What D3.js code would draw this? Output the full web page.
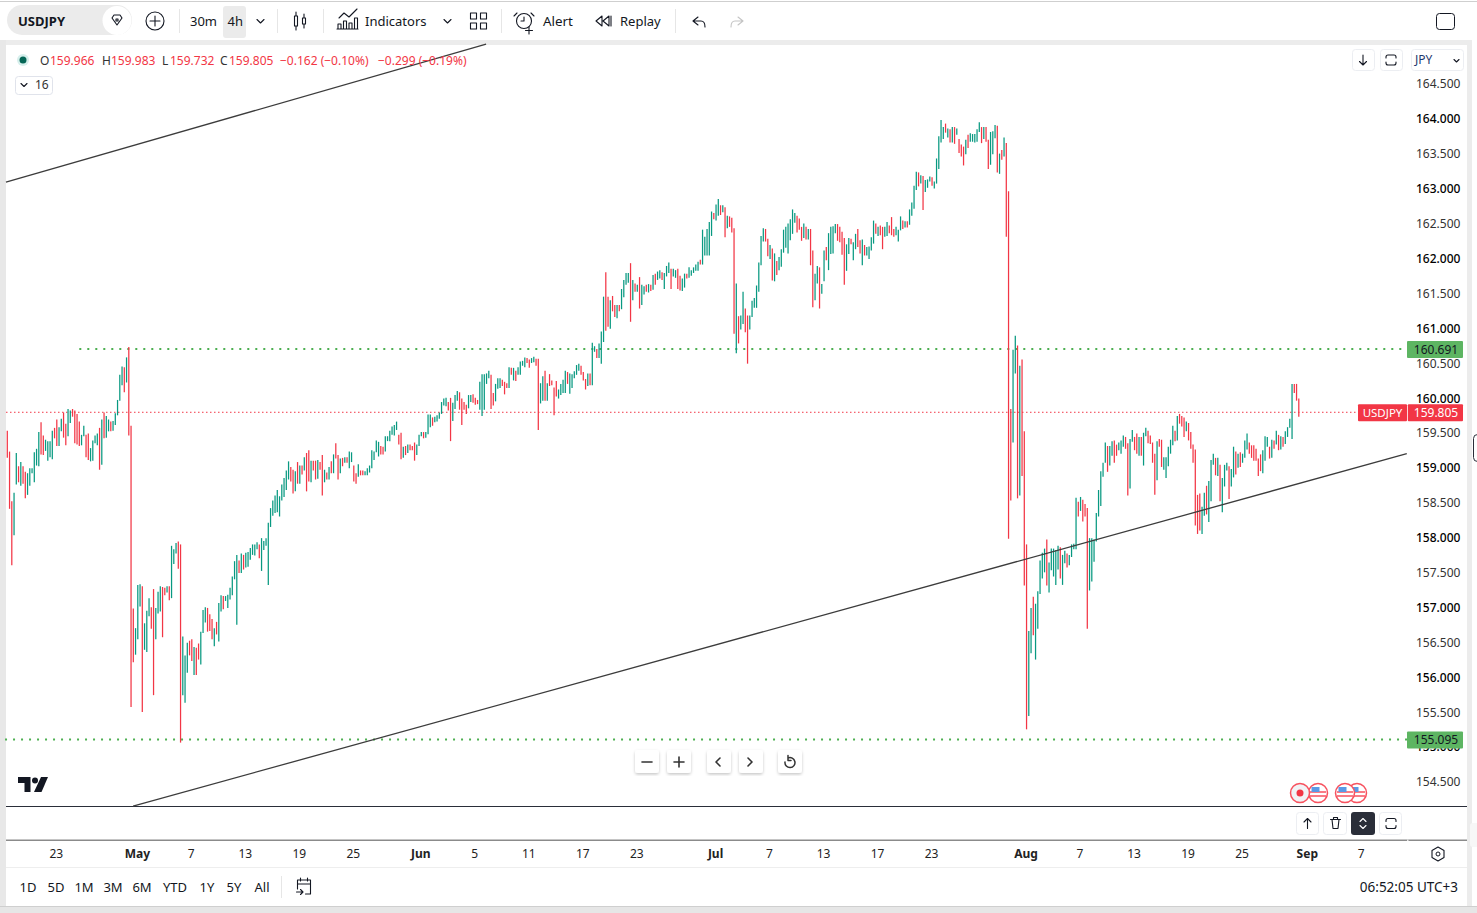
<!DOCTYPE html>
<html>
<head>
<meta charset="utf-8">
<script src="https://cdn.jsdelivr.net/npm/d3@7/dist/d3.min.js"></script>
<style>
  html, body { margin: 0; padding: 0; background: #fff; overflow: hidden; }
  text { font-family: "Noto Sans", "Open Sans", sans-serif; fill: #131722; }
</style>
</head>
<body>
<div id="chart"></div>
<script>
// 4h bars, ten per line
var barHighs = [
  159.52,159.22,158.51,158.63,159.20,159.01,159.07,159.01,158.93,158.91,
  158.98,158.98,159.21,159.26,159.50,159.64,159.45,159.39,159.37,159.37,
  159.52,159.56,159.68,159.57,159.69,159.78,159.62,159.83,159.81,159.83,
  159.81,159.76,159.65,159.46,159.59,159.46,159.48,159.27,159.38,159.45,
  159.48,159.56,159.68,159.78,159.73,159.68,159.65,159.66,159.77,159.96,
  160.32,160.44,160.43,160.57,160.72,159.59,156.97,156.69,157.31,157.32,
  157.29,156.76,156.94,157.12,156.99,157.25,156.98,157.21,157.29,157.28,
  157.27,157.29,157.29,157.87,157.82,157.91,157.93,157.89,156.57,156.30,
  156.48,156.51,156.53,156.42,156.41,156.47,156.64,156.95,156.99,156.98,
  156.89,156.82,156.69,156.78,157.05,157.16,157.15,157.15,157.17,157.27,
  157.43,157.65,157.74,157.66,157.76,157.74,157.77,157.78,157.84,157.89,
  157.89,157.92,157.89,157.98,157.94,157.98,158.20,158.41,158.52,158.59,
  158.67,158.58,158.75,158.84,158.95,159.08,159.00,158.96,158.94,159.07,
  159.02,159.02,159.14,159.20,159.24,159.09,159.09,159.09,159.10,159.07,
  159.17,158.96,158.92,159.00,159.08,159.18,159.34,159.17,159.12,159.13,
  159.14,159.14,159.22,159.21,159.02,158.91,159.04,158.95,158.95,158.94,
  158.98,159.02,159.24,159.22,159.38,159.36,159.30,159.29,159.44,159.44,
  159.52,159.58,159.60,159.65,159.46,159.49,159.29,159.30,159.32,159.32,
  159.30,159.35,159.32,159.46,159.50,159.50,159.50,159.75,159.75,159.71,
  159.72,159.74,159.78,159.93,159.98,159.99,159.93,159.99,159.92,160.03,
  160.09,160.07,159.98,159.93,159.89,160.03,160.03,160.04,159.99,159.96,
  160.22,160.33,160.33,160.34,160.38,160.32,160.06,160.19,160.27,160.27,
  160.25,160.22,160.20,160.43,160.42,160.42,160.38,160.43,160.51,160.52,
  160.57,160.56,160.54,160.56,160.58,160.55,160.55,160.20,160.30,160.38,
  160.20,160.33,160.24,160.14,160.23,160.11,160.19,160.25,160.38,160.36,
  160.34,160.33,160.37,160.46,160.48,160.45,160.36,160.26,160.34,160.34,
  160.78,160.73,160.69,160.77,160.94,161.44,161.79,161.44,161.39,161.45,
  161.32,161.32,161.32,161.55,161.68,161.78,161.78,161.92,161.68,161.63,
  161.61,161.72,161.61,161.59,161.61,161.62,161.61,161.75,161.77,161.80,
  161.82,161.79,161.78,161.88,161.93,161.84,161.84,161.82,161.84,161.74,
  161.70,161.77,161.77,161.86,161.82,161.86,161.90,161.94,161.97,162.40,
  162.30,162.41,162.51,162.66,162.64,162.76,162.84,162.75,162.75,162.72,
  162.60,162.59,162.57,162.42,161.63,161.16,161.17,161.51,161.27,161.17,
  161.17,161.38,161.42,161.60,161.93,162.31,162.42,162.41,162.27,162.18,
  162.13,162.06,161.95,162.01,162.12,162.40,162.44,162.49,162.55,162.69,
  162.64,162.60,162.56,162.44,162.49,162.44,162.41,162.41,162.10,161.77,
  161.88,161.86,161.62,162.10,162.15,162.35,162.44,162.45,162.48,162.48,
  162.44,162.37,162.28,162.19,162.28,162.27,162.22,162.34,162.41,162.25,
  162.26,162.18,162.15,162.16,162.29,162.53,162.49,162.44,162.46,162.44,
  162.44,162.51,162.46,162.58,162.41,162.44,162.40,162.59,162.53,162.52,
  162.52,162.69,162.79,163.03,163.23,163.22,163.18,163.17,163.11,163.12,
  163.16,163.15,163.09,163.42,163.74,163.97,163.87,163.92,163.85,163.84,
  163.87,163.87,163.85,163.70,163.62,163.59,163.69,163.76,163.78,163.77,
  163.77,163.84,163.94,163.87,163.87,163.87,163.69,163.80,163.81,163.90,
  163.89,163.49,163.54,163.72,163.64,162.95,159.83,160.68,160.88,160.74,
  160.45,160.54,159.51,157.89,156.65,156.98,157.14,157.04,157.22,157.66,
  157.77,157.83,157.96,157.63,157.83,157.83,157.81,157.87,157.85,157.74,
  157.80,157.76,157.74,157.89,157.90,158.56,158.50,158.57,158.53,158.47,
  158.41,157.98,157.98,157.96,158.34,158.67,158.94,159.06,159.35,159.30,
  159.30,159.37,159.38,159.32,159.35,159.38,159.45,159.43,159.34,159.40,
  159.53,159.43,159.48,159.43,159.43,159.49,159.56,159.52,159.45,159.35,
  159.19,159.37,159.40,159.39,159.14,159.14,159.29,159.39,159.59,159.52,
  159.73,159.76,159.73,159.71,159.65,159.63,159.50,159.32,159.25,158.60,
  158.62,158.43,158.63,158.73,158.80,159.10,159.19,159.13,159.13,159.03,
  158.84,159.03,159.06,159.01,158.97,159.29,159.22,159.19,159.21,159.19,
  159.38,159.48,159.35,159.31,159.31,159.26,159.12,159.18,159.24,159.44,
  159.43,159.29,159.39,159.38,159.52,159.46,159.44,159.43,159.51,159.57,
  159.69,160.19,160.19,160.19,159.98
];
var barLows = [
  159.13,158.40,157.59,158.02,158.75,158.78,158.73,158.76,158.55,158.60,
  158.73,158.91,158.78,159.02,159.01,159.18,159.17,159.23,159.09,159.14,
  159.11,159.41,159.30,159.30,159.51,159.42,159.31,159.44,159.63,159.72,
  159.34,159.32,159.30,159.31,159.44,159.14,159.10,159.08,159.09,159.34,
  159.31,158.96,159.03,159.41,159.42,159.51,159.51,159.52,159.60,159.74,
  159.95,160.17,160.07,160.21,159.45,155.56,156.20,156.31,156.53,157.00,
  155.49,156.38,156.35,156.86,156.68,155.73,156.53,156.90,156.93,156.56,
  157.16,157.20,157.09,157.12,157.61,157.76,157.54,155.05,155.73,155.62,
  156.05,156.30,156.22,156.02,156.02,156.24,156.17,156.62,156.77,156.64,
  156.65,156.53,156.43,156.60,156.50,156.93,156.96,157.08,156.98,157.10,
  157.16,157.39,156.74,157.48,157.48,157.53,157.56,157.57,157.67,157.74,
  157.73,157.82,157.69,157.51,157.81,157.87,157.31,158.14,158.30,158.34,
  158.35,158.29,158.52,158.57,158.67,158.82,158.79,158.62,158.65,158.76,
  158.76,158.89,158.95,158.65,158.79,158.78,158.95,158.82,158.83,158.96,
  158.59,158.78,158.82,158.82,158.91,158.91,159.12,158.82,158.91,159.01,
  159.06,159.06,158.98,159.07,158.79,158.76,158.86,158.88,158.88,158.88,
  158.88,158.92,158.98,159.10,159.21,159.15,159.18,159.18,159.22,159.37,
  159.37,159.46,159.45,159.53,159.32,159.11,159.13,159.17,159.20,159.24,
  159.24,159.09,159.17,159.30,159.44,159.41,159.42,159.47,159.57,159.59,
  159.64,159.65,159.69,159.76,159.88,159.87,159.81,159.37,159.66,159.83,
  159.95,159.82,159.60,159.82,159.76,159.84,159.93,159.92,159.89,159.90,
  159.82,159.73,159.82,160.19,160.27,159.83,159.88,159.94,160.12,160.13,
  160.16,160.04,160.13,160.13,160.32,160.24,160.23,160.32,160.32,160.45,
  160.43,160.49,160.42,160.49,160.50,160.45,159.53,159.91,159.95,159.95,
  159.95,160.16,160.17,159.74,160.01,159.98,160.03,160.06,160.06,160.19,
  160.05,160.13,160.27,160.32,160.38,160.32,160.24,160.11,160.16,160.17,
  160.17,160.65,160.56,160.56,160.48,160.79,160.95,161.01,160.98,161.23,
  161.15,161.13,161.23,161.26,161.43,161.61,161.64,161.08,161.39,161.51,
  161.51,161.27,161.32,161.47,161.51,161.50,161.52,161.54,161.61,161.68,
  161.70,161.68,161.55,161.73,161.78,161.55,161.73,161.71,161.55,161.53,
  161.52,161.57,161.70,161.71,161.74,161.78,161.81,161.81,161.90,161.90,
  162.03,162.03,162.03,162.31,162.55,162.53,162.60,162.61,162.65,162.29,
  162.42,162.44,162.36,160.91,160.63,160.77,160.97,161.05,160.93,160.48,
  160.97,161.15,161.28,161.28,161.51,161.89,162.23,162.23,162.02,161.98,
  161.67,161.66,161.75,161.82,161.87,162.07,162.14,162.06,162.25,162.34,
  162.50,162.36,162.40,162.24,162.28,162.26,162.26,161.89,161.29,161.39,
  161.63,161.27,161.48,161.66,161.96,161.82,162.05,162.06,162.35,162.24,
  162.22,162.04,161.61,161.81,162.05,162.19,161.96,162.12,162.15,162.06,
  161.89,162.03,162.03,161.98,162.10,162.20,162.34,162.31,162.32,162.12,
  162.30,162.31,162.35,162.32,162.30,162.32,162.23,162.39,162.41,162.43,
  162.43,162.47,162.60,162.70,162.97,163.02,163.06,162.68,162.94,163.00,
  163.09,163.03,162.99,163.06,163.27,163.65,163.70,163.79,163.72,163.65,
  163.65,163.63,163.76,163.50,163.45,163.32,163.48,163.57,163.66,163.66,
  163.65,163.66,163.80,163.64,163.70,163.66,163.27,163.33,163.48,163.71,
  163.22,163.20,163.40,163.45,162.30,157.97,158.52,159.35,160.34,158.55,
  158.59,158.87,157.30,155.24,155.43,156.33,156.59,156.24,156.68,157.18,
  157.40,157.49,157.30,157.20,157.52,157.43,157.31,157.53,157.40,157.31,
  157.62,157.56,157.59,157.71,157.82,157.82,158.29,158.37,158.22,158.29,
  156.68,157.23,157.36,157.64,157.93,158.29,158.44,158.86,159.06,158.93,
  159.02,159.16,159.06,159.16,159.24,159.19,159.29,159.26,158.59,158.69,
  159.36,159.24,159.19,159.16,159.16,159.02,159.44,159.34,159.33,159.06,
  158.60,158.81,159.29,159.00,158.96,158.84,159.01,159.19,159.31,159.37,
  159.38,159.62,159.58,159.43,159.51,159.38,159.26,159.06,158.16,158.04,
  158.09,158.04,158.30,158.32,158.21,158.51,159.03,158.88,158.87,158.51,
  158.35,158.72,158.95,158.54,158.72,158.85,158.89,158.99,159.00,159.06,
  159.13,159.25,159.19,159.13,159.09,159.09,158.87,158.94,158.91,159.09,
  159.29,159.12,159.13,159.26,159.32,159.24,159.25,159.29,159.33,159.43,
  159.56,159.40,160.06,159.95,159.72
];
// g = close above open, r = close below open
var barDirs = [
  "rrrggrgrrg","gggggrrggg","grrggrrggr","rrrggrrggg","grgrggrggg",
  "ggrgrrrggg","rgggrrgggr","rgrgggrrgg","grrgrrgggr","rrgrggrggg",
  "gggrgrgggg","ggrggggggg","ggggggrrgr","grgrrgrrgr","rgrgrgrrgr",
  "grggrrgrrg","ggggggrrgg","ggggrrgrgr","rrgggrgggr","ggggggrrgg",
  "grrrrggrrr","gggggrrggg","rrrgrgrggg","grrggrrggr","grrrrggggr",
  "gggggrrrgr","ggrgggrrgr","rgrggggrgr","grggrgrgrg","grgggrggrr",
  "ggrgggggrg","ggggrggrgr","grrrgrggrr","gggggggrrg","rgrggggggg",
  "grrrgrgrrg","grggrggggr","rrrggrggrr","grggggrgrr","ggrrrgggrg",
  "rggggrgrgg","grgggggrgr","grgrrrgrgg","gggrgrrggg","rgrgrrrggr",
  "grrrggrggg","ggrgggggrg","grggggrgrr","rggggggggr","ggrrgggrrg",
  "grrgrggrrr","rgrrgggggr","grrrgrrrrr","rggrgggrgr","gggrggrgrg",
  "ggrrrrrrgg","grgrgrgrgg","ggrrr"
].join("");

// pane settings
var yTickValues = [164.5,164,163.5,163,162.5,162,161.5,161,160.5,160,159.5,159,158.5,158,157.5,157,156.5,156,155.5,155,154.5];
var xTickIndex = [22,58,82,106,130,154,184,208,232,256,280,315,339,363,387,411,453,477,501,525,549,578,602];
var xTickLabels = ["23","May","7","13","19","25","Jun","5","11","17","23","Jul","7","13","17","23","Aug","7","13","19","25","Sep","7"];
var xTickMonths = ["May","Jun","Jul","Aug","Sep"];
var supportLevels = [{price: 160.691, start: 32}, {price: 155.095, start: -1}];
var lastPrice = 159.805;
var trendLines = [
  {i0: -0.6, p0: 163.08, i1: 212.8, p1: 165.06},
  {i0: 55.9, p0: 154.14, i1: 622, p1: 159.19}
];
var legendValues = [["O","159.966",40,50],["H","159.983",102,111],["L","159.732",162,170],["C","159.805",220,229]];
var rangeLabels = [["1D",28],["5D",56],["1M",84],["3M",113],["6M",142],["YTD",175],["1Y",207],["5Y",234],["All",262]];

var GREEN = "#089981", RED = "#f23645", LEVEL = "#4caf50", TAG = "#5db562", INK = "#131722";

var svg = d3.select("#chart").append("svg")
    .attr("width", 1477)
    .attr("height", 913);

var x = d3.scaleLinear().domain([0, 574]).range([7.3, 7.3 + 2.25 * 574]);
var y = d3.scaleLinear().domain([164, 154.5]).range([118, 781]);

// page frame
function box(g, x0, y0, w, h, fill, r, stroke){
  return g.append("rect")
      .attr("x", x0).attr("y", y0)
      .attr("width", w).attr("height", h)
      .attr("rx", r || 0)
      .attr("fill", fill)
      .attr("stroke", stroke || "none");
}

function label(g, str, px, py, size, anchor, color, weight){
  return g.append("text")
      .attr("x", px).attr("y", py)
      .attr("dy", ".35em")
      .attr("text-anchor", anchor || "start")
      .style("font-size", (size || 13) + "px")
      .style("fill", color || INK)
      .style("font-weight", weight || 400)
      .text(str);
}

function icon(g, d, tx, ty, color, width){
  return g.append("path")
      .attr("d", d)
      .attr("transform", "translate(" + tx + "," + ty + ")")
      .attr("fill", "none")
      .attr("stroke", color || INK)
      .attr("stroke-width", width || 1.1)
      .attr("stroke-linecap", "round")
      .attr("stroke-linejoin", "round");
}

var frame = svg.append("g");
box(frame, 0, 1, 1477, 1, "#cfcfcf");
box(frame, 0, 40, 1472, 5, "#ececec");
box(frame, 0, 40, 6, 866, "#e8e8e8");
box(frame, 1467, 40, 5, 866, "#ececec");
box(frame, 0, 906, 1477, 7, "#e6e6e6");
box(frame, 0, 906, 1477, 1, "#cfcfcf");
box(frame, 6, 867, 1461, 1, "#eeeeee");
box(frame, 6, 806, 1461, 1, "#2a2e39");
box(frame, 6, 839.5, 1461, 1.5, "#8b8b8b");
box(frame, 1407, 839.5, 1.5, 1.5, "#e8e8e8");

// horizontal levels and the last price line
var chart = svg.append("g");

chart.selectAll(".level")
    .data(supportLevels)
  .enter().append("line")
    .attr("class", "level")
    .attr("x1", function(d){ return x(d.start); })
    .attr("x2", 1407)
    .attr("y1", function(d){ return y(d.price); })
    .attr("y2", function(d){ return y(d.price); })
    .attr("stroke", LEVEL)
    .attr("stroke-width", 2)
    .attr("stroke-dasharray", "2 6");

chart.append("line")
    .attr("x1", 6)
    .attr("x2", 1358)
    .attr("y1", y(lastPrice) + 1.5)
    .attr("y2", y(lastPrice) + 1.5)
    .attr("stroke", RED)
    .attr("stroke-dasharray", "1.5 2.5");

// the bars
chart.selectAll(".bar")
    .data(barHighs)
  .enter().append("line")
    .attr("class", "bar")
    .attr("x1", function(d, i){ return x(i); })
    .attr("x2", function(d, i){ return x(i); })
    .attr("y1", function(d){ return y(d); })
    .attr("y2", function(d, i){ return y(barLows[i]); })
    .attr("stroke", function(d, i){ return barDirs[i] == "g" ? GREEN : RED; })
    .attr("stroke-width", 1.25);

chart.selectAll(".trend")
    .data(trendLines)
  .enter().append("line")
    .attr("class", "trend")
    .attr("x1", function(d){ return x(d.i0); })
    .attr("y1", function(d){ return y(d.p0); })
    .attr("x2", function(d){ return x(d.i1); })
    .attr("y2", function(d){ return y(d.p1); })
    .attr("stroke", "#3c3c3c")
    .attr("stroke-width", 1.3);

// axes
var yAxis = svg.append("g")
    .attr("transform", "translate(1416,1)")
    .call(d3.axisRight(y).tickValues(yTickValues).tickSize(0).tickPadding(0).tickFormat(d3.format(".3f")));
yAxis.select(".domain").remove();
yAxis.selectAll("text")
    .style("font-size", "12px")
    .style("fill", function(d){ return d % 1 == 0 ? "#000" : "#333"; })
    .style("font-weight", function(d){ return d % 1 == 0 ? 500 : 400; });

var xAxis = svg.append("g")
    .attr("transform", "translate(-1,849)")
    .call(d3.axisBottom(x).tickValues(xTickIndex).tickSize(0).tickPadding(0).tickFormat(function(d, i){ return xTickLabels[i]; }));
xAxis.select(".domain").remove();
xAxis.selectAll("text")
    .style("font-size", "12px")
    .style("fill", "#222")
    .style("font-weight", function(d, i){ return xTickMonths.indexOf(xTickLabels[i]) > -1 ? 700 : 400; });

// price tags
var tags = svg.append("g");
supportLevels.forEach(function(d){
  box(tags, 1407, y(d.price) - 8, 56, 17, TAG, 1);
  label(tags, d.price.toFixed(3), 1436, y(d.price) + 0.5, 12, "middle", INK);
});
box(tags, 1358, y(lastPrice) - 6.5, 49, 17, RED, 1);
box(tags, 1407.8, y(lastPrice) - 6.5, 55.2, 17, RED, 1);
label(tags, "USDJPY", 1382.5, y(lastPrice) + 2, 11.5, "middle", "#fff");
label(tags, lastPrice.toFixed(3), 1436, y(lastPrice) + 2, 12, "middle", "#fff");

// legend
var legend = svg.append("g");
legend.append("circle").attr("cx", 23).attr("cy", 60).attr("r", 6).attr("fill", "#d6efec");
legend.append("circle").attr("cx", 23).attr("cy", 60).attr("r", 3.5).attr("fill", "#056656");
legendValues.forEach(function(d){
  label(legend, d[0], d[2], 60.5, 12, "start", "#333");
  label(legend, d[1], d[3], 60.5, 12, "start", RED);
});
label(legend, "\u2212" + "0.162 (\u22120.10%)", 280, 60.5, 12, "start", RED);
label(legend, "\u2212" + "0.299 (\u22120.19%)", 378, 60.5, 12, "start", RED);
box(legend, 15.5, 76.5, 37, 18, "#fff", 3, "#e0e3eb");
icon(legend, "M0 0l3 3l3-3", 21, 83.5, INK);
label(legend, "16", 35, 85, 12, "start", "#333");

// toolbar
var bar = svg.append("g");
box(bar, 7, 5, 125, 30, "#ebebeb", 15);
bar.append("circle").attr("cx", 117).attr("cy", 20.5).attr("r", 14.5).attr("fill", "#fff");
label(bar, "USDJPY", 18, 21, 13, "start", INK, 700);
icon(bar, "M-5-3l2-3h6l2 3l-5 7z M-1-2h2l0 2h-2z", 117, 21);
bar.append("circle").attr("cx", 155).attr("cy", 21).attr("r", 9).attr("fill", "none").attr("stroke", INK).attr("stroke-width", 1.1);
icon(bar, "M-5 0h10M0-5v10", 155, 21);
[179, 277, 323, 501, 675].forEach(function(px){ box(bar, px, 9, 1, 24, "#e6e6e6"); });
label(bar, "30m", 190, 21, 13);
box(bar, 223, 6, 23, 32, "#ebebeb", 3);
label(bar, "4h", 227.5, 21, 13);
icon(bar, "M0 0l3.5 3.5l3.5-3.5", 257, 19.5);
icon(bar, "M-1.5-5h3v10h-3zM0-9v4M0 5v4", 296, 21);
icon(bar, "M-1.5-3h3v6h-3zM0-7v4M0 3v4", 304, 21);
icon(bar, "M0 8v-5h3v5zM5.5 8v-8h3v8zM11 8v-6h3v6zM16.5 8v-11h3v11z M-1 8h21 M1-3l5-5l5 4l8-8", 338, 21);
label(bar, "Indicators", 365, 21, 13);
icon(bar, "M0 0l3.5 3.5l3.5-3.5", 444, 19.5);
icon(bar, "M0 0h6v6h-6zM10 0h6v6h-6zM0 10h6v6h-6zM10 10h6v6h-6z", 470.5, 13);
bar.append("circle").attr("cx", 524).attr("cy", 21).attr("r", 7.5).attr("fill", "none").attr("stroke", INK).attr("stroke-width", 1.1);
icon(bar, "M0-4v4h-3M5 6v7M1.5 9.5h7M-7-8l-3 3M7-8l3 3", 524, 21);
label(bar, "Alert", 543, 21, 13.4);
icon(bar, "M-2-5l-6 5l6 5zM5-5l-6 5l6 5zM7-5v10", 604, 21);
label(bar, "Replay", 620, 21, 13);
icon(bar, "M0 0l-5 4l5 4M-5 4h8c3 0 4 2 4 6", 698, 17);
icon(bar, "M0 0l5 4l-5 4M5 4h-8c-3 0-4 2-4 6", 738, 17, "#c4c4c4");
box(bar, 1436.5, 13.5, 18, 16, "none", 3, INK);

// pane buttons, top right
var panel = svg.append("g");
[[1352, 22], [1380, 22], [1411, 52]].forEach(function(d){
  box(panel, d[0] + 0.5, 49.5, d[1], 21, "#fff", 3, "#eceef2");
});
icon(panel, "M0-5v10M-3.5 1.5L0 5l3.5-3.5", 1363, 60);
icon(panel, "M-5-2v-1c0-1 1-2 2-2h6c1 0 2 1 2 2v1M-5 2v1c0 1 1 2 2 2h6c1 0 2-1 2-2v-1", 1391, 60);
label(panel, "JPY", 1415, 60, 12, "start", "#1f3a6e");
icon(panel, "M0 0l2.5 2.5l2.5-2.5", 1454, 59.5);

// zoom and scroll buttons over the pane
var controls = svg.append("defs").append("filter").attr("id", "soft");
controls.append("feDropShadow").attr("dx", 0).attr("dy", 1.5).attr("stdDeviation", 1.6).attr("flood-opacity", 0.22);
var nav = svg.append("g");
[635, 667, 707, 739, 778].forEach(function(px){
  box(nav, px, 750, 24, 23, "#fff", 3).attr("filter", "url(#soft)");
});
icon(nav, "M-5 0h10", 647, 762, "#333", 1.6);
icon(nav, "M-5 0h10M0-5v10", 679, 762, "#333", 1.6);
icon(nav, "M2-4l-4 4l4 4", 718, 762, "#333", 1.6);
icon(nav, "M-2-4l4 4l-4 4", 750, 762, "#333", 1.6);
icon(nav, "M-2-5a5 5 0 1 1-3 4M-2-7.5v5h3", 790, 763, "#333", 1.5);

// TradingView mark
var mark = svg.append("g").attr("fill", INK);
mark.append("path").attr("d", "M18 777h12.5v15h-6v-9h-6.5z");
mark.append("circle").attr("cx", 35).attr("cy", 780.5).attr("r", 3);
mark.append("path").attr("d", "M41 777h7l-6.5 15h-7.5z");

// event markers
var events = svg.append("g");
[1357, 1318, 1345].forEach(function(cx){
  events.append("circle").attr("cx", cx).attr("cy", 793).attr("r", 9.5).attr("fill", "#fff").attr("stroke", "#f7525f").attr("stroke-width", 1.5);
  events.append("path").attr("d", "M-8 -1h16M-8 3h16").attr("transform", "translate(" + cx + ",793)").attr("stroke", "#f7525f").attr("stroke-width", 1.6);
  events.append("rect").attr("x", cx - 6.5).attr("y", 787).attr("width", 8).attr("height", 5).attr("fill", "#5a9ae6");
});
events.append("circle").attr("cx", 1300).attr("cy", 793).attr("r", 9.5).attr("fill", "#f1f3f6").attr("stroke", "#f7525f").attr("stroke-width", 1.5);
events.append("circle").attr("cx", 1300).attr("cy", 793).attr("r", 3.5).attr("fill", "#f23645");

// lower pane buttons
var lower = svg.append("g");
box(lower, 1296.5, 812.5, 22, 22, "#fff", 3, "#eceef2");
box(lower, 1323.5, 812.5, 23, 22, "#fff", 3, "#eceef2");
box(lower, 1351, 812, 24, 23, "#2a2e39", 3);
box(lower, 1379.5, 812.5, 22, 22, "#fff", 3, "#eceef2");
icon(lower, "M0-5v10M-3.5-1.5L0-5l3.5 3.5", 1307.5, 823.5);
icon(lower, "M-5-4h10M-2-4v-2h4v2M-3.5-4l1 9h5l1-9", 1335.5, 823.5);
icon(lower, "M-3-2l3-3l3 3M-3 2l3 3l3-3", 1363, 823.5, "#fff");
icon(lower, "M-5-2v-1c0-1 1-2 2-2h6c1 0 2 1 2 2v1M-5 2v1c0 1 1 2 2 2h6c1 0 2-1 2-2v-1", 1391, 823.5);

// bottom bar
var foot = svg.append("g");
rangeLabels.forEach(function(d){
  label(foot, d[0], d[1], 887, 13, "middle", INK);
});
box(foot, 281, 876, 1, 22, "#e6e6e6");
icon(foot, "M-6 3v-9h13v14h-5M-6-2h13M-3-8v3M4-8v3M-7 6h6M-3 3.5l2.5 2.5l-2.5 2.5", 303.5, 886);
label(foot, "06:52:05 UTC+3", 1458, 887, 13.5, "end", INK);
icon(foot, "M0-7l6 3.5v7l-6 3.5l-6-3.5v-7z", 1438, 854);
foot.append("circle").attr("cx", 1438).attr("cy", 854).attr("r", 2).attr("fill", "none").attr("stroke", INK);

// window edge
var edge = svg.append("g");
box(edge, 1473.5, 434.5, 8, 27, "#fff", 4, "#2a2e39");
box(edge, 1470, 823, 10, 24, "#f7f7f7", 3);
</script>
</body>
</html>
